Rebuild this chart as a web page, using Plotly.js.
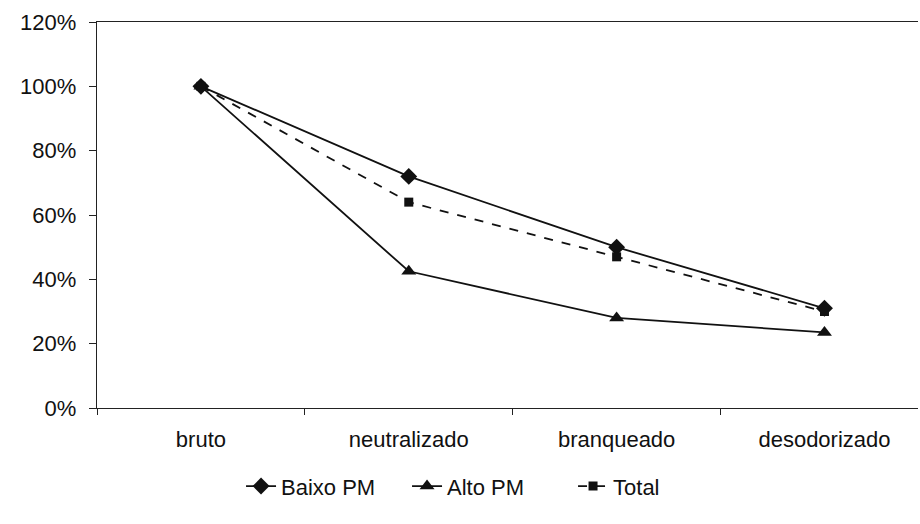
<!DOCTYPE html>
<html><head><meta charset="utf-8">
<script src="https://cdn.plot.ly/plotly-3.0.1.min.js"></script>
<style>html,body{margin:0;padding:0;background:#fff;overflow:hidden}</style>
</head><body>
<div id="chart" style="width:920px;height:524px"></div>
<script>
const categories = ["bruto", "neutralizado", "branqueado", "desodorizado"];
const baixoPM = [100, 72, 50, 31];
const altoPM = [100, 42.5, 28, 23.5];
const total = [100, 64, 47, 30];
const seriesNames = ["Baixo PM", "Alto PM", "Total"];
const yTicks = [0, 20, 40, 60, 80, 100, 120];
const yTickLabels = ["0%", "20%", "40%", "60%", "80%", "100%", "120%"];

const traces = [
  {x: categories, y: baixoPM, name: seriesNames[0], mode: "lines+markers",
   line: {color: "#111", width: 1.8}, marker: {symbol: "diamond", size: 13, color: "#111"}},
  {x: categories, y: altoPM, name: seriesNames[1], mode: "lines+markers",
   line: {color: "#111", width: 1.8}, marker: {symbol: "triangle-up", size: 13, color: "#111"}},
  {x: categories, y: total, name: seriesNames[2], mode: "lines+markers",
   line: {color: "#111", width: 1.8, dash: "dash"}, marker: {symbol: "square", size: 9, color: "#111"}}
];

const layout = {
  width: 920, height: 524,
  margin: {l: 97, r: 2, t: 22, b: 116},
  paper_bgcolor: "#fff", plot_bgcolor: "#fff",
  font: {family: "Liberation Sans, Arial, sans-serif", size: 22, color: "#111"},
  showlegend: true,
  legend: {orientation: "h", xref: "container", yref: "container", x: 0.262, xanchor: "left",
           y: 0.072, yanchor: "middle", font: {size: 22, color: "#111"}, traceorder: "normal",
           entrywidth: 121, entrywidthmode: "pixels"},
  xaxis: {type: "category", range: [-0.5, 3.45], showline: true, linecolor: "#222", linewidth: 1.3,
          mirror: true, ticks: "outside", ticklen: 6, tickcolor: "#222", tickson: "boundaries",
          showgrid: false, zeroline: false, ticklabelstandoff: 11, tickfont: {size: 22, color: "#111"}},
  yaxis: {range: [0, 120], tickmode: "array", tickvals: yTicks, ticktext: yTickLabels, showline: true,
          linecolor: "#222", linewidth: 1.3, ticks: "outside", ticklen: 7, tickcolor: "#222",
          showgrid: false, zeroline: false, ticklabelstandoff: 8, tickfont: {size: 22, color: "#111"}}
};

Plotly.newPlot("chart", traces, layout, {displayModeBar: false, staticPlot: true});
</script>
</body></html>
